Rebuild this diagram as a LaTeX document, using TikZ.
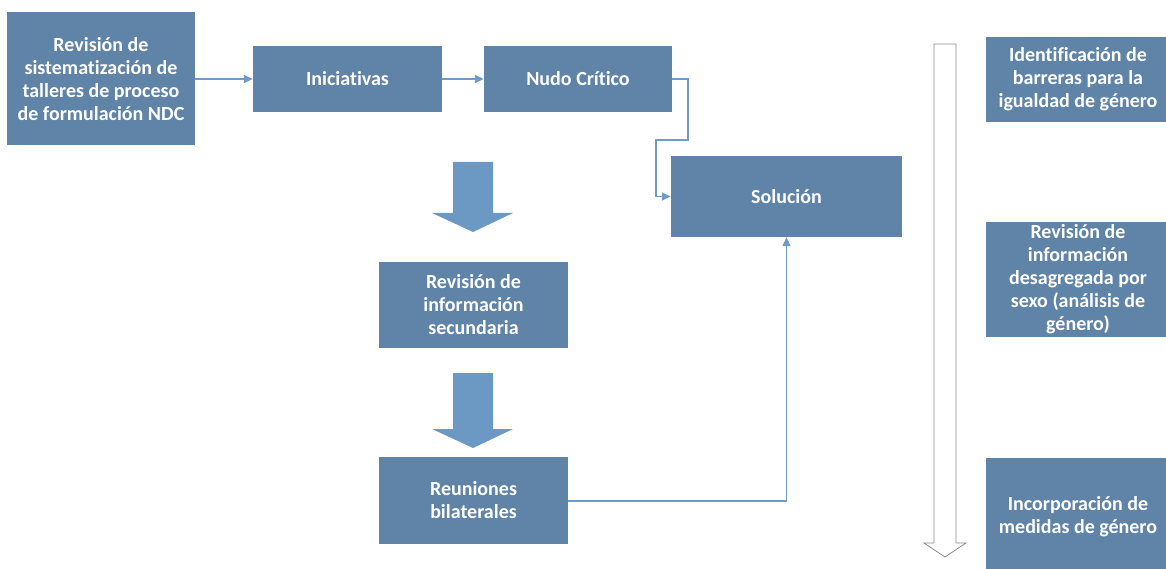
\documentclass[tikz,border=0pt]{standalone}
\usepackage{fontspec}
\setmainfont{Carlito}[Ligatures={NoCommon,NoRare,NoContextual}]
\usetikzlibrary{arrows.meta}
\definecolor{boxblue}{HTML}{5F84A8}
\definecolor{bigarrow}{HTML}{6C98C4}
\definecolor{linkblue}{HTML}{6E9BC8}
\definecolor{outline}{HTML}{8A8A8A}
\tikzset{
  box/.style={fill=boxblue, draw=none, text=white, align=center, inner sep=0pt,
    font=\bfseries\fontsize{20}{23}\selectfont},
  link/.style={draw=linkblue, line width=1.5pt, -{Triangle[length=9pt,width=8pt]}},
  blockarrow/.style={fill=bigarrow, draw=none},
  hollowarrow/.style={fill=white, draw=outline, line width=0.8pt, line join=miter}
}
\begin{document}
\begin{tikzpicture}[x=1pt,y=-1pt]
\useasboundingbox (0,0) rectangle (1166,569);
% boxes
\node[box, minimum width=188pt, minimum height=133pt] (a) at (101,79)
  {Revisión de\\sistematización de\\talleres de proceso\\de formulación NDC};
\node[box, minimum width=189pt, minimum height=66pt] (ini) at (347.5,79) {Iniciativas};
\node[box, minimum width=188pt, minimum height=66pt] (nudo) at (578,79) {Nudo Crítico};
\node[box, minimum width=231pt, minimum height=81pt] (sol) at (786.5,196.5) {Solución};
\node[box, minimum width=189pt, minimum height=86pt] (sec) at (473.5,305)
  {Revisión de\\información\\secundaria};
\node[box, minimum width=189pt, minimum height=87pt] (reu) at (473.5,500.5)
  {Reuniones\\bilaterales};
\node[box, minimum width=184pt, minimum height=85pt] (ide) at (1078,79.5)
  {Identificación de\\barreras para la\\igualdad de género};
\node[box, minimum width=184pt, minimum height=115pt] (des) at (1078,279.5)
  {Revisión de\\información\\desagregada por\\sexo (análisis de\\género)};
\node[box, minimum width=184pt, minimum height=118pt] (inc) at (1078,517)
  {Incorporación de\\medidas de género};
% connectors
\coordinate (n1) at (688,79);
\coordinate (n2) at (688,140);
\coordinate (n3) at (656,140);
\coordinate (n4) at (656,196.5);
\coordinate (r1) at (786.5,501);
\draw[link] (a.east) -- (ini.west);
\draw[link] (ini.east) -- (nudo.west);
\draw[link] (nudo.east) -- (n1) -- (n2) -- (n3) -- (n4) -- (sol.west);
\draw[link] (reu.east |- r1) -- (r1) -- (sol.south);
% block arrows
\fill[blockarrow] (453,162) -- (493,162) -- (493,213) -- (513,213) -- (473,232)
  -- (432,213) -- (453,213) -- cycle;
\fill[blockarrow] (453,373) -- (493,373) -- (493,429) -- (513,429) -- (473,448)
  -- (432,429) -- (453,429) -- cycle;
% long hollow arrow
\draw[hollowarrow] (934,44) -- (956,44) -- (956,543) -- (966,543) -- (945,557)
  -- (924,543) -- (934,543) -- cycle;
\end{tikzpicture}
\end{document}
